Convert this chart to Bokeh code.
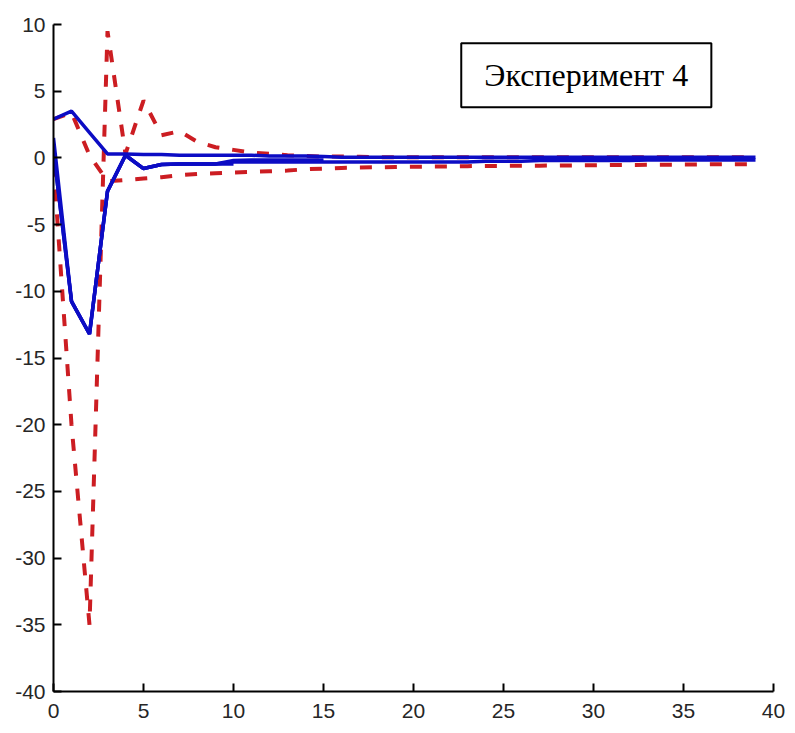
import numpy as np
from bokeh.plotting import figure
from bokeh.models import Range1d, Label, FixedTicker
from bokeh.embed import file_html
from bokeh.resources import INLINE

# Estimated responses (solid blue)
est_a = [2.9, 3.5, 1.9, 0.3, 0.3, 0.25, 0.25, 0.2, 0.2, 0.2,
         0.2, 0.2, 0.15, 0.15, 0.15, 0.1, 0.05, 0.05, 0.05, 0.05,
         0.05, 0.05, 0.05, 0.05, 0.05, 0.05, 0.05, 0.05, 0.05, 0.05,
         0.05, 0.05, 0.05, 0.05, 0.05, 0.05, 0.05, 0.05, 0.05, 0.05]
est_b = [0.5, -10.75, -13.2, -2.5, 0.2, -0.8, -0.5, -0.45, -0.45, -0.45,
         -0.45]
est_c = [0.5, -10.75, -13.2, -2.5, 0.2, -0.8, -0.5, -0.45, -0.45, -0.45,
         -0.2, -0.15, -0.15, -0.15, -0.15, -0.15]
est_d = [1.5, -10.75, -13.2, -2.5, 0.2, -0.8, -0.5, -0.45, -0.45, -0.45,
         -0.3, -0.3, -0.3, -0.3, -0.3, -0.3, -0.3, -0.3, -0.3, -0.3,
         -0.3, -0.3, -0.3, -0.3, -0.25, -0.25, -0.25, -0.2, -0.2, -0.2,
         -0.2, -0.2, -0.2, -0.15, -0.15, -0.15, -0.15, -0.15, -0.15, -0.15]

# Reference responses (dashed red)
ref_a = [-0.5, -20.0, -35.0, 9.5, 0.3, 4.3, 1.7, 2.0, 1.2, 0.8,
         0.6, 0.4, 0.3, 0.2, 0.15, 0.1, 0.1, 0.08, 0.06, 0.05,
         0.05, 0.05, 0.05, 0.05, 0.05, 0.05, 0.05, 0.05, 0.05, 0.05,
         0.05, 0.05, 0.05, 0.05, 0.05, 0.05, 0.05, 0.05, 0.05, 0.05]
ref_b = [2.9, 3.4, 0.2, -1.75, -1.65, -1.55, -1.45, -1.3, -1.2, -1.15,
         -1.1, -1.05, -1.0, -0.95, -0.85, -0.8, -0.75, -0.72, -0.7, -0.68,
         -0.66, -0.65, -0.64, -0.62, -0.6, -0.6, -0.59, -0.58, -0.57, -0.56,
         -0.55, -0.54, -0.53, -0.52, -0.51, -0.5, -0.49, -0.48, -0.47, -0.47]

x_ticks = [0, 5, 10, 15, 20, 25, 30, 35, 40]
y_ticks = [-40, -35, -30, -25, -20, -15, -10, -5, 0, 5, 10]
title_text = "Эксперимент 4"

BLUE = "#0c0cc4"
RED = "#cc1d22"

p = figure(width=795, height=733, output_backend="svg", toolbar_location=None,
           x_range=Range1d(0, 40), y_range=Range1d(-40, 10),
           min_border_left=53, min_border_right=22,
           min_border_top=24, min_border_bottom=42)
p.outline_line_color = None
p.xgrid.visible = False
p.ygrid.visible = False
p.background_fill_color = "white"
p.border_fill_color = "white"

for ax, ticks in ((p.xaxis, x_ticks), (p.yaxis, y_ticks)):
    ax.ticker = FixedTicker(ticks=ticks)
    ax.major_label_overrides = {t: str(t) for t in ticks}
    ax.axis_line_color = "black"
    ax.axis_line_width = 2
    ax.major_tick_line_color = "black"
    ax.major_tick_line_width = 2
    ax.major_tick_in = 8
    ax.major_tick_out = 0
    ax.minor_tick_line_color = None
    ax.major_label_text_font = "Liberation Sans"
    ax.major_label_text_font_size = "21px"
    ax.major_label_text_color = "#262626"
p.xaxis.major_label_standoff = 12
p.yaxis.major_label_standoff = 8

def xs(arr):
    return np.arange(len(arr))

# dashed references beneath the solid estimates
for arr in (ref_a, ref_b):
    p.line(xs(arr), arr, line_color=RED, line_width=4, line_dash="12 13")
for arr in (est_a, est_d, est_c, est_b):
    p.line(xs(arr), arr, line_color=BLUE, line_width=3.5)

p.add_layout(Label(x=29.6, y=6.2, text=title_text,
                   text_font="Liberation Serif", text_font_size="32px",
                   text_color="black", text_align="center",
                   text_baseline="middle",
                   border_line_color="black", border_line_width=2,
                   background_fill_color="white", padding=(23, 14)))

open("out.html", "w").write(file_html(p, INLINE))
